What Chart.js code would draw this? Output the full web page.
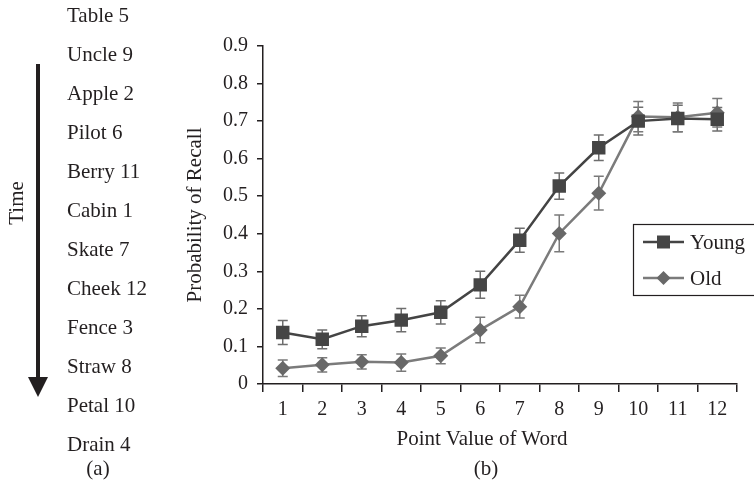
<!DOCTYPE html>
<html>
<head>
<meta charset="utf-8">
<script src="https://cdn.jsdelivr.net/npm/chart.js@4"></script>
<style>
  html, body { margin: 0; padding: 0; background: #fff; }
  #wrap { position: relative; width: 754px; height: 486px; overflow: hidden; font-family: "Liberation Serif", "DejaVu Serif", serif; color: #231f20; }
  #chart { position: absolute; left: 0; top: 0; }
  #words { position: absolute; left: 67px; top: -4px; font-size: 21px; line-height: 39px; white-space: nowrap; }
  .lbl { position: absolute; font-size: 21px; white-space: nowrap; line-height: 24px; }
  #time { left: 16px; top: 203px; transform: translate(-50%, -50%) rotate(-90deg); }
  #pa { left: 98px; top: 468px; transform: translate(-50%, -50%); }
  #pb { left: 486px; top: 468px; transform: translate(-50%, -50%); }
  #xt { left: 482px; top: 438px; transform: translate(-50%, -50%); }
  #arrow { position: absolute; left: 0; top: 0; }
</style>
</head>
<body>
<div id="wrap">
  <canvas id="chart" width="754" height="486"></canvas>
  <svg id="arrow" width="60" height="486">
    <line x1="38" y1="64" x2="38" y2="380" stroke="#231f20" stroke-width="4"/>
    <polygon points="28,377 48,377 38,397" fill="#231f20"/>
  </svg>
  <div id="words"></div>
  <div class="lbl" id="time">Time</div>
  <div class="lbl" id="pa">(a)</div>
  <div class="lbl" id="xt">Point Value of Word</div>
  <div class="lbl" id="pb">(b)</div>
</div>
<script>
// ---- data ----
const wordList = ['Table 5', 'Uncle 9', 'Apple 2', 'Pilot 6', 'Berry 11', 'Cabin 1', 'Skate 7', 'Cheek 12', 'Fence 3', 'Straw 8', 'Petal 10', 'Drain 4'];
const pointValues = ['1', '2', '3', '4', '5', '6', '7', '8', '9', '10', '11', '12'];
const youngRecall = [0.137, 0.119, 0.154, 0.170, 0.191, 0.264, 0.383, 0.527, 0.629, 0.700, 0.707, 0.705];
const youngError  = [0.032, 0.025, 0.028, 0.031, 0.031, 0.036, 0.032, 0.035, 0.034, 0.037, 0.035, 0.031];
const oldRecall   = [0.042, 0.051, 0.059, 0.057, 0.075, 0.144, 0.206, 0.401, 0.508, 0.712, 0.710, 0.722];
const oldError    = [0.022, 0.019, 0.019, 0.023, 0.021, 0.034, 0.030, 0.049, 0.045, 0.040, 0.038, 0.038];
const yTicks = [0, 0.1, 0.2, 0.3, 0.4, 0.5, 0.6, 0.7, 0.8, 0.9];

document.getElementById('words').innerHTML = wordList.map(w => '<div>' + w + '</div>').join('');

const FONT = '"Liberation Serif", "DejaVu Serif", serif';
const INK = '#231f20';

const errorBars = {
  id: 'errorBars',
  beforeDatasetsDraw(chart) {
    const ctx = chart.ctx;
    const ys = chart.scales.y;
    chart.data.datasets.forEach((ds, di) => {
      const meta = chart.getDatasetMeta(di);
      ctx.save();
      ctx.strokeStyle = ds.errorColor;
      ctx.lineWidth = 1.5;
      meta.data.forEach((pt, i) => {
        const v = ds.data[i], e = ds.errors[i];
        const x = pt.x;
        const t = ys.getPixelForValue(v + e);
        const b = ys.getPixelForValue(v - e);
        ctx.beginPath();
        ctx.moveTo(x, t); ctx.lineTo(x, b);
        ctx.moveTo(x - 5, t); ctx.lineTo(x + 5, t);
        ctx.moveTo(x - 5, b); ctx.lineTo(x + 5, b);
        ctx.stroke();
      });
      ctx.restore();
    });
  }
};

const boxLegend = {
  id: 'boxLegend',
  afterDraw(chart) {
    const ctx = chart.ctx;
    ctx.save();
    ctx.strokeStyle = INK;
    ctx.lineWidth = 1.2;
    ctx.strokeRect(633.5, 224.5, 130, 71);
    const rows = [242, 278];
    chart.data.datasets.forEach((ds, i) => {
      const y = rows[i];
      ctx.strokeStyle = ds.borderColor;
      ctx.lineWidth = 2.5;
      ctx.beginPath(); ctx.moveTo(643, y); ctx.lineTo(684, y); ctx.stroke();
      ctx.fillStyle = ds.pointBackgroundColor;
      ctx.beginPath();
      if (ds.pointStyle === 'rect') {
        ctx.rect(663.5 - 6.5, y - 6.5, 13, 13);
      } else {
        ctx.moveTo(663.5, y - 7); ctx.lineTo(670.5, y); ctx.lineTo(663.5, y + 7); ctx.lineTo(656.5, y);
        ctx.closePath();
      }
      ctx.fill();
      ctx.fillStyle = INK;
      ctx.font = '21px ' + FONT;
      ctx.textBaseline = 'middle';
      ctx.fillText(ds.label, 690, y + 1);
    });
    ctx.restore();
  }
};

new Chart(document.getElementById('chart'), {
  type: 'line',
  data: {
    labels: pointValues,
    datasets: [
      {
        label: 'Young',
        data: youngRecall,
        errors: youngError,
        errorColor: '#6e6e6e',
        borderColor: '#444444',
        borderWidth: 2.5,
        pointStyle: 'rect',
        pointRadius: 9.5,
        pointBackgroundColor: '#454545',
        pointBorderColor: '#454545',
        pointBorderWidth: 0,
        tension: 0
      },
      {
        label: 'Old',
        data: oldRecall,
        errors: oldError,
        errorColor: '#7a7a7a',
        borderColor: '#7b7b7b',
        borderWidth: 2.5,
        pointStyle: 'rectRot',
        pointRadius: 7.5,
        pointBackgroundColor: '#686868',
        pointBorderColor: '#686868',
        pointBorderWidth: 0,
        tension: 0
      }
    ]
  },
  options: {
    responsive: false,
    animation: false,
    layout: { padding: { left: 180, right: 17, top: 46, bottom: 0 } },
    plugins: { legend: { display: false }, tooltip: { enabled: false } },
    scales: {
      x: {
        offset: true,
        grid: { display: true, drawOnChartArea: false, offset: true, tickLength: 8, color: INK, lineWidth: 1.5 },
        border: { display: true, color: INK, width: 1.5 },
        ticks: { color: INK, font: { family: FONT, size: 20 }, padding: 6, maxRotation: 0 },
        afterFit(s) { s.height = 102; }
      },
      y: {
        min: 0, max: 0.9,
        afterBuildTicks(s) { s.ticks = yTicks.map(v => ({ value: v })); },
        grid: { display: true, drawOnChartArea: false, tickLength: 6, color: INK, lineWidth: 1.5 },
        border: { display: true, color: INK, width: 1.5 },
        ticks: { color: INK, font: { family: FONT, size: 20 }, padding: 9,
                 callback: v => (v === 0 ? '0' : v.toFixed(1)) },
        title: { display: true, text: 'Probability of Recall', color: INK, font: { family: FONT, size: 21 }, padding: { top: 3, bottom: 0 } },
        afterFit(s) { s.width = 83; }
      }
    }
  },
  plugins: [errorBars, boxLegend]
});
</script>
</body>
</html>
